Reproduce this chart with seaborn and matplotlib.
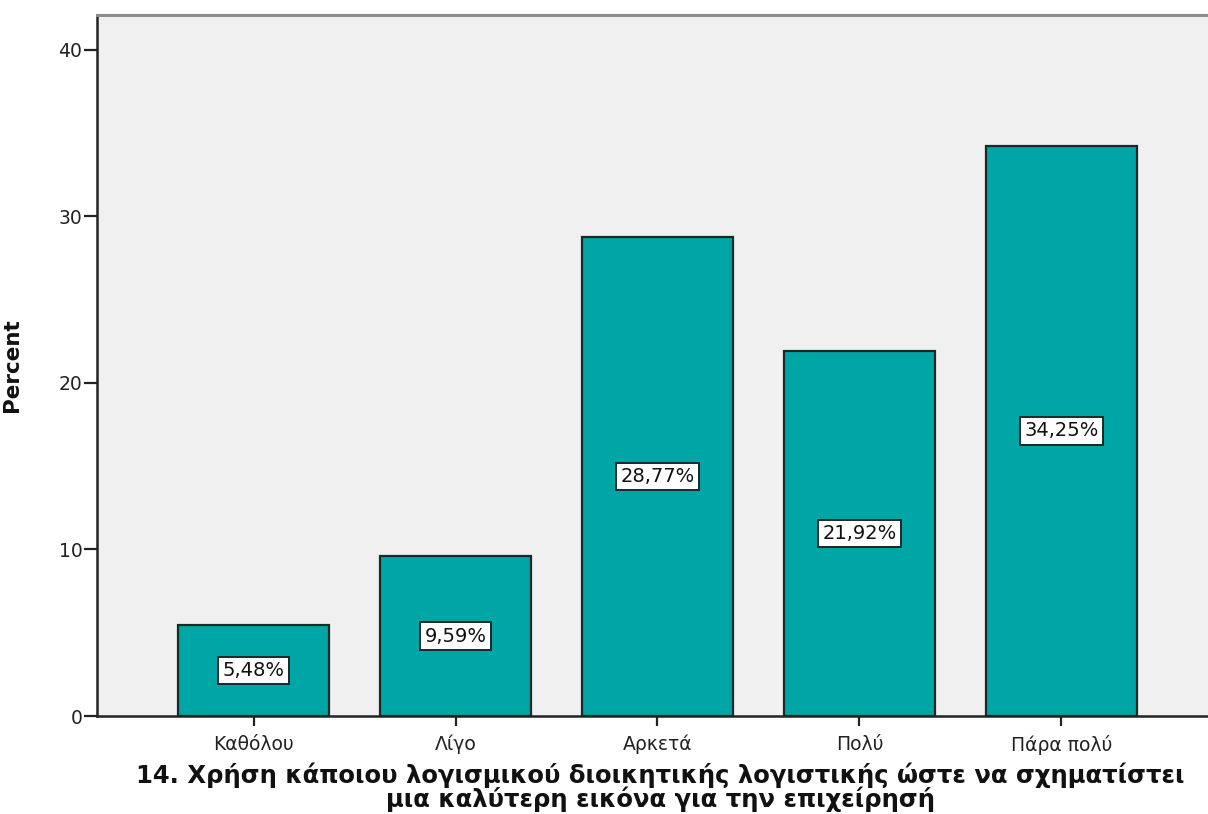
import matplotlib
matplotlib.use("Agg")
import matplotlib.pyplot as plt
import seaborn as sns
import pandas as pd

categories = ["Καθόλου", "Λίγο", "Αρκετά", "Πολύ", "Πάρα πολύ"]
percents = [5.48, 9.59, 28.77, 21.92, 34.25]
value_labels = ["5,48%", "9,59%", "28,77%", "21,92%", "34,25%"]
y_ticks = [0, 10, 20, 30, 40]
x_title = ("14. Χρήση κάποιου λογισμικού διοικητικής λογιστικής ώστε να σχηματίστει\n"
           "μια καλύτερη εικόνα για την επιχείρησή")
y_title = "Percent"

sns.set_theme(style="ticks")
plt.rcParams["font.family"] = ["DejaVu Sans"]

df = pd.DataFrame({"cat": categories, "pct": percents})

fig = plt.figure(figsize=(12.08, 8.14), dpi=100)
ax = fig.add_axes([97 / 1208, 98 / 814, (1218 - 97) / 1208, (716 - 15) / 814])
ax.set_facecolor("#F0F0F0")

sns.barplot(data=df, x="cat", y="pct", color="#00A6A6", saturation=1,
            width=0.75, edgecolor="#1A2828", linewidth=1.6, ax=ax)

for i, (v, lab) in enumerate(zip(percents, value_labels)):
    ax.text(i, v / 2, lab, ha="center", va="center", fontsize=14, color="#111111",
            bbox=dict(boxstyle="square,pad=0.22", facecolor="white",
                      edgecolor="#1A2828", linewidth=1.4))

ax.set_xlim(-0.775, 4.775)
ax.set_ylim(0, 42.1)
ax.set_yticks(y_ticks)
ax.set_yticklabels([str(t) for t in y_ticks])
ax.tick_params(axis="y", direction="out", length=9.5, width=1.6, color="#222222",
               labelsize=13.5, labelcolor="#222222", pad=1)
ax.tick_params(axis="x", direction="out", length=7.5, width=1.6, color="#222222",
               labelsize=13.5, labelcolor="#222222", pad=6)

for s in ["left", "bottom"]:
    ax.spines[s].set_color("#222222")
    ax.spines[s].set_linewidth(1.8)
ax.spines["top"].set_color("#8C8C8C")
ax.spines["top"].set_linewidth(2.2)
ax.spines["right"].set_visible(False)

ax.set_xlabel(x_title, fontsize=17.5, fontweight="bold", color="#111111",
              linespacing=0.92, va="top")
ax.set_ylabel(y_title, fontsize=15.5, fontweight="bold", color="#111111")
ax.xaxis.set_label_coords((660 - 97) / (1218 - 97), -(763 - 716) / (716 - 15))
ax.yaxis.set_label_coords(-(97 - 22) / (1218 - 97), (716 - 365) / (716 - 15))

fig.savefig("out.png", dpi=100, facecolor="white")
